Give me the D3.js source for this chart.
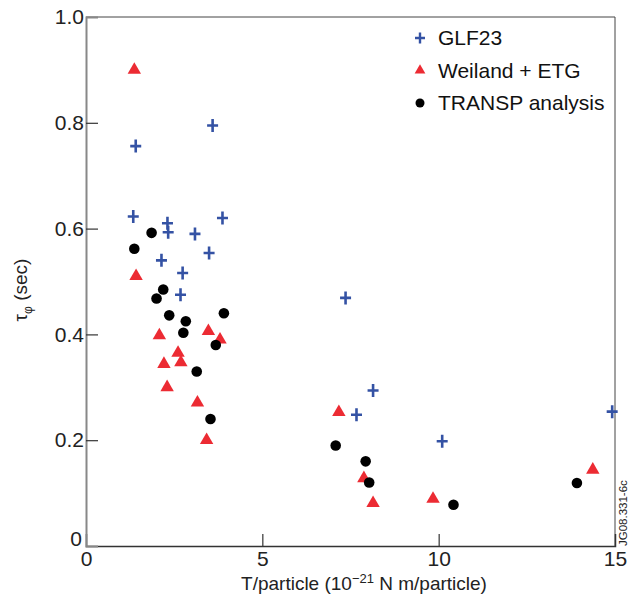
<!DOCTYPE html>
<html>
<head>
<meta charset="utf-8">
<script src="https://cdn.jsdelivr.net/npm/d3@7"></script>
<style>
  body { margin: 0; background: #fff; }
  text { font-family: "Liberation Sans", Arial, sans-serif; }
</style>
</head>
<body>
<div id="chart"></div>
<script>
/**
 * DATA
 * */
const glf23X = [1.34, 1.41, 3.59, 2.31, 2.33, 2.14, 3.09, 2.74, 2.68, 3.49, 3.87, 7.36, 8.14, 7.67, 10.1, 14.92];
const glf23Y = [0.623, 0.756, 0.795, 0.61, 0.593, 0.54, 0.59, 0.516, 0.475, 0.554, 0.62, 0.469, 0.294, 0.248, 0.198, 0.254];

const weilandX = [1.37, 1.42, 2.08, 2.21, 2.30, 2.61, 2.69, 3.16, 3.47, 3.80, 3.42, 7.17, 7.88, 8.14, 9.84, 14.37];
const weilandY = [0.90, 0.51, 0.398, 0.344, 0.30, 0.365, 0.347, 0.271, 0.406, 0.39, 0.20, 0.253, 0.128, 0.081, 0.089, 0.144];

const transpX = [1.37, 1.86, 2.19, 2.0, 2.36, 2.83, 2.76, 3.91, 3.68, 3.14, 3.53, 7.08, 7.93, 8.03, 10.42, 13.92];
const transpY = [0.562, 0.592, 0.485, 0.468, 0.436, 0.425, 0.403, 0.44, 0.38, 0.33, 0.24, 0.19, 0.16, 0.12, 0.078, 0.119];

const xTicks = [0, 5, 10, 15];
const yTicks = [0, 0.2, 0.4, 0.6, 0.8, 1.0];

const seriesNames = ["GLF23", "Weiland + ETG", "TRANSP analysis"];

/**
 * CONSTANTS
 * */
const width = 629, height = 604,
  margin = { top: 16, bottom: 59, left: 86, right: 14 },
  blue = "#3452a4", red = "#ec2b33", black = "#000";

const svg = d3.select("#chart").append("svg")
  .attr("width", width)
  .attr("height", height);

const x = d3.scaleLinear()
  .domain([0, 15])
  .range([margin.left, width - margin.right]);
const y = d3.scaleLinear()
  .domain([0, 1])
  .range([height - margin.bottom + 1, margin.top + 1]);

// frame: top + right thin
svg.append("line")
  .attr("x1", x(0)).attr("x2", x(15))
  .attr("y1", y(1)).attr("y2", y(1))
  .attr("stroke", "#444").attr("stroke-width", 1);
svg.append("line")
  .attr("x1", x(15)).attr("x2", x(15))
  .attr("y1", y(1)).attr("y2", y(0))
  .attr("stroke", "#444").attr("stroke-width", 1);

// x axis
const xAxis = g => g
  .attr("transform", `translate(0,${y(0)})`)
  .call(d3.axisBottom(x).tickValues(xTicks).tickFormat(d3.format("d")).tickSize(-12).tickPadding(5))
  .call(g => g.select(".domain").attr("stroke", "#333").attr("stroke-width", 1.5))
  .call(g => g.selectAll(".tick line").attr("stroke", "#333").attr("stroke-width", 1.2)
    .attr("display", d => (d === 0 || d === 15) ? "none" : null))
  .call(g => g.selectAll(".tick text").attr("font-size", 21).attr("fill", "#222")
    .attr("font-family", "Liberation Sans, Arial, sans-serif"));
svg.append("g").call(xAxis);

// y axis
const yAxis = g => g
  .attr("transform", `translate(${x(0)},0)`)
  .call(d3.axisLeft(y).tickValues(yTicks).tickFormat(d => d === 0 ? "0" : d3.format(".1f")(d)).tickSize(-12).tickPadding(2))
  .call(g => g.select(".domain").attr("stroke", "#888").attr("stroke-width", 2))
  .call(g => g.selectAll(".tick line").attr("stroke", "#333").attr("stroke-width", 1.2)
    .attr("display", d => (d === 0 || d === 1) ? "none" : null))
  .call(g => g.selectAll(".tick text").attr("font-size", 21).attr("fill", "#222")
    .attr("font-family", "Liberation Sans, Arial, sans-serif"))
  // zero label sits a little above the corner
  .call(g => g.selectAll(".tick text").filter(d => d === 0).attr("y", -7).attr("x", -4));
svg.append("g").call(yAxis);

// axis titles
const xTitle = svg.append("text")
  .attr("x", 364).attr("y", 590)
  .attr("text-anchor", "middle")
  .attr("font-size", 19)
  .attr("fill", "#222");
xTitle.append("tspan").text("T/particle (10");
xTitle.append("tspan").text("\u221221").attr("font-size", 13).attr("dy", -7);
xTitle.append("tspan").text(" N m/particle)").attr("dy", 7);

const yTitle = svg.append("text")
  .attr("transform", "translate(27,290) rotate(-90)")
  .attr("text-anchor", "middle")
  .attr("font-size", 19)
  .attr("fill", "#222");
yTitle.append("tspan").text("\u03c4");
yTitle.append("tspan").text("\u03c6").attr("font-size", 12).attr("dy", 5);
yTitle.append("tspan").text(" (sec)").attr("dy", -5);

svg.append("text")
  .attr("transform", `translate(627,${y(0)}) rotate(-90)`)
  .attr("font-size", 11.5)
  .attr("fill", "#222")
  .text("JG08.331-6c");

// markers
const crossPath = "M-5.5,0H5.5M0,-6.5V6.5";
const triPath = d3.symbol().type(d3.symbolTriangle).size(78)();

svg.append("g")
  .selectAll("path")
  .data(d3.range(glf23X.length))
  .join("path")
    .attr("transform", i => `translate(${x(glf23X[i])},${y(glf23Y[i])})`)
    .attr("d", crossPath)
    .attr("stroke", blue)
    .attr("stroke-width", 2.6)
    .attr("fill", "none");

svg.append("g")
  .selectAll("path")
  .data(d3.range(weilandX.length))
  .join("path")
    .attr("transform", i => `translate(${x(weilandX[i])},${y(weilandY[i])})`)
    .attr("d", triPath)
    .attr("fill", red);

svg.append("g")
  .selectAll("circle")
  .data(d3.range(transpX.length))
  .join("circle")
    .attr("cx", i => x(transpX[i]))
    .attr("cy", i => y(transpY[i]))
    .attr("r", 5.3)
    .attr("fill", black);

// legend
const legend = svg.append("g").attr("transform", "translate(420,38)");
const rowH = 32.5;
seriesNames.forEach((name, i) => {
  const row = legend.append("g").attr("transform", `translate(0,${i * rowH})`);
  if (i === 0) {
    row.append("path").attr("d", "M-5,0H5M0,-5.5V5.5").attr("stroke", blue).attr("stroke-width", 2.4);
  } else if (i === 1) {
    row.append("path").attr("d", d3.symbol().type(d3.symbolTriangle).size(50)()).attr("fill", red);
  } else {
    row.append("circle").attr("r", 4.5).attr("fill", black);
  }
  row.append("text")
    .attr("x", 18).attr("y", 0)
    .attr("dy", "0.35em")
    .attr("font-size", 21)
    .attr("fill", "#111")
    .text(name);
});
</script>
</body>
</html>
